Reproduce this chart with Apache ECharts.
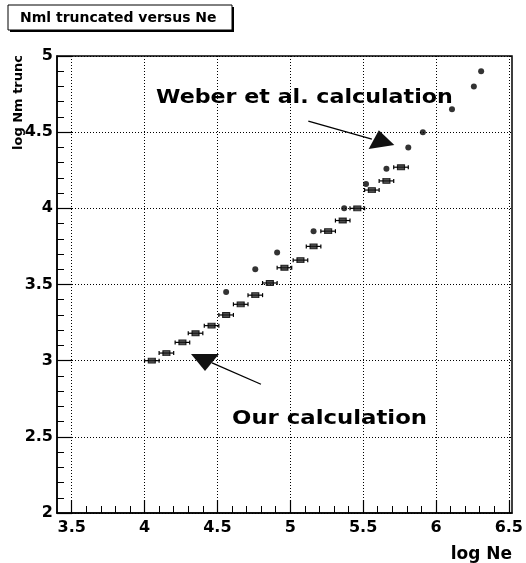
<!DOCTYPE html>
<html>
<head>
<meta charset="utf-8">
<script src="https://cdn.jsdelivr.net/npm/echarts@6/dist/echarts.min.js"></script>
<style>html,body{margin:0;padding:0;background:#fff;}#c{width:526px;height:563px;}</style>
</head>
<body>
<div id="c"></div>
<script>
// ---- data ----
const ourX   = [4.05,4.15,4.26,4.35,4.46,4.56,4.66,4.76,4.86,4.96,5.07,5.16,5.26,5.36,5.46,5.56,5.66,5.76];
const ourY   = [3.00,3.05,3.12,3.18,3.23,3.30,3.37,3.43,3.51,3.61,3.66,3.75,3.85,3.92,4.00,4.12,4.18,4.27];
const ourErr = [0.05,0.05,0.05,0.05,0.05,0.05,0.05,0.05,0.05,0.05,0.05,0.05,0.05,0.05,0.05,0.05,0.05,0.05];
const weberX = [4.56,4.76,4.91,5.16,5.37,5.52,5.66,5.81,5.91,6.11,6.26,6.31];
const weberY = [3.45,3.60,3.71,3.85,4.00,4.16,4.26,4.40,4.50,4.65,4.80,4.90];
const xTicks = [3.5,4,4.5,5,5.5,6,6.5];
const yTicks = [2,2.5,3,3.5,4,4.5,5];
const titleText = 'Nml truncated versus Ne';
const xName = 'log Ne';
const yName = 'log Nm trunc';
const weberLabel = 'Weber et al. calculation';
const ourLabel = 'Our calculation';
// annotation arrows (data coords)
const weberArrow = [[5.124,4.573],[5.56,4.455]];
const weberHead = [5.617,4.458];
const ourArrow = [[4.799,2.845],[4.463,2.985]];
const ourHead = [4.415,2.988];

// ---- layout ----
const W = 526, H = 563;
const L0 = 57, R = 512, T = 56, B = 513;
const xMinFrame = 3.4;
const xMin = xTicks[0], xMax = xTicks[xTicks.length-1];
const pxPerX = (R - L0) / (xMax - xMinFrame);
const L1 = L0 + (xMin - xMinFrame) * pxPerX;
const FONT = '"DejaVu Sans", "Liberation Sans", Arial, sans-serif';

const ourData = ourX.map((x,i)=>[x, ourY[i]]);
const errData = ourX.map((x,i)=>[x, ourY[i], ourErr[i]]);
const weberData = weberX.map((x,i)=>[x, weberY[i]]);

const chart = echarts.init(document.getElementById('c'), null, {renderer:'canvas'});
const labelStyle = {color:'#000', fontFamily: FONT, fontWeight:'bold', fontSize:16};

chart.setOption({
  backgroundColor:'#fff',
  animation:false,
  grid:[
    {left:L0, right:W-R, top:T, bottom:H-B, show:true, borderColor:'#000', borderWidth:1.5, backgroundColor:'transparent'},
    {left:L1, right:W-R, top:T, bottom:H-B, show:false}
  ],
  xAxis:[
    {type:'value', gridIndex:0, min:xMinFrame, max:xMax, axisLine:{show:true, onZero:false, lineStyle:{color:'#000', width:1.5}},
     axisTick:{show:false}, axisLabel:{show:false}, splitLine:{show:false}},
    {type:'value', gridIndex:1, min:xMin, max:xMax, interval:0.5,
     axisLine:{show:false, onZero:false},
     axisTick:{show:true, inside:true, length:13, lineStyle:{color:'#000', width:1.2}},
     minorTick:{show:true, splitNumber:5, length:7, lineStyle:{color:'#000', width:1}},
     axisLabel:Object.assign({margin:7, formatter:v=>String(v)}, labelStyle),
     splitLine:{show:true, lineStyle:{color:'#000', type:[1,2], width:1}}}
  ],
  yAxis:[
    {type:'value', gridIndex:0, min:yTicks[0], max:yTicks[yTicks.length-1], interval:0.5,
     axisLine:{show:true, onZero:false, lineStyle:{color:'#000', width:1.5}},
     axisTick:{show:true, inside:true, length:15, lineStyle:{color:'#000', width:1.2}},
     minorTick:{show:true, splitNumber:5, length:7, lineStyle:{color:'#000', width:1}},
     axisLabel:Object.assign({margin:4, formatter:v=>String(v)}, labelStyle),
     splitLine:{show:true, lineStyle:{color:'#000', type:[1,2], width:1}}},
    {type:'value', gridIndex:1, min:yTicks[0], max:yTicks[yTicks.length-1], show:false}
  ],
  series:[
    {type:'custom', xAxisIndex:1, yAxisIndex:1, data:errData, silent:true,
     renderItem:function(params, api){
       const x = api.value(0), y = api.value(1), e = api.value(2);
       const p1 = api.coord([x-e, y]), p2 = api.coord([x+e, y]);
       const st = {stroke:'#000', lineWidth:1.2};
       return {type:'group', children:[
         {type:'line', shape:{x1:p1[0], y1:p1[1], x2:p2[0], y2:p2[1]}, style:st},
         {type:'line', shape:{x1:p1[0], y1:p1[1]-2, x2:p1[0], y2:p1[1]+2}, style:st},
         {type:'line', shape:{x1:p2[0], y1:p2[1]-2, x2:p2[0], y2:p2[1]+2}, style:st}
       ]};
     }},
    {name:'Our calculation', type:'scatter', xAxisIndex:1, yAxisIndex:1, data:ourData,
     symbol:'rect', symbolSize:[7,5], itemStyle:{color:'#222', borderColor:'#000', borderWidth:1},
     markLine:{silent:true, symbol:['none','none'], label:{show:false},
       lineStyle:{color:'#000', type:'solid', width:1.3},
       data:[[{coord:ourArrow[0]},{coord:ourArrow[1]}],[{coord:weberArrow[0]},{coord:weberArrow[1]}]]},
     markPoint:{silent:true, label:{show:false}, itemStyle:{color:'#111'},
       data:[
         {coord:ourHead, symbol:'triangle', symbolSize:[28,17], symbolRotate:180},
         {coord:weberHead, symbol:'triangle', symbolSize:[26,17], symbolRotate:9}
       ]}},
    {name:'Weber et al.', type:'scatter', xAxisIndex:1, yAxisIndex:1, data:weberData,
     symbol:'circle', symbolSize:6, itemStyle:{color:'#000'}}
  ],
  graphic:[
    {type:'rect', shape:{x:10, y:7, width:224, height:25}, style:{fill:'#000'}},
    {type:'rect', shape:{x:8, y:5, width:224, height:25}, style:{fill:'#fff', stroke:'#000', lineWidth:1}},
    {type:'text', x:20, y:18, style:{text:titleText, font:'bold 14px '+FONT, fill:'#000', textVerticalAlign:'middle'}},
    {type:'text', x:19, y:55, rotation:Math.PI/2, style:{text:yName, font:'bold 13px '+FONT, fill:'#000', textAlign:'right', textVerticalAlign:'middle'}},
    {type:'text', x:R, y:555, style:{text:xName, font:'bold 17px '+FONT, fill:'#000', textAlign:'right', textVerticalAlign:'middle'}},
    {type:'text', x:156, y:98, scaleX:1.167, style:{text:weberLabel, font:'bold 19px '+FONT, fill:'#000', textVerticalAlign:'middle'}},
    {type:'text', x:232, y:419, scaleX:1.2, style:{text:ourLabel, font:'bold 19px '+FONT, fill:'#000', textVerticalAlign:'middle'}}
  ]
});
</script>
</body>
</html>
